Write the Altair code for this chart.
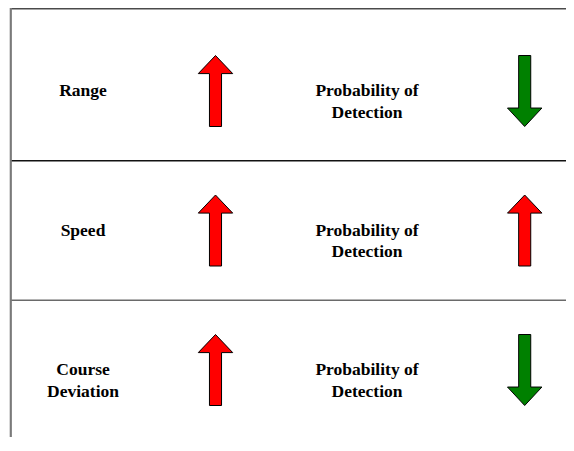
import altair as alt
import pandas as pd

# ---- data ----
factors = ["Range", "Speed", "Course\nDeviation"]
factor_dirs = ["up", "up", "up"]
effects = ["Probability of\nDetection", "Probability of\nDetection", "Probability of\nDetection"]
effect_dirs = ["down", "up", "down"]
row_edges = [-0.59, 0.5, 1.5]          # table separators, in row units
edge_names = ["top", "mid1", "mid2"]

# ---- tables ----
cols = ["factor", "factor_arrow", "effect", "effect_arrow"]
rows = list(range(len(factors)))
texts = pd.DataFrame(
    [{"row": r, "col": cols.index("factor"), "text": factors[r]} for r in rows]
    + [{"row": r, "col": cols.index("effect"), "text": effects[r]} for r in rows]
)
arrows = pd.DataFrame(
    [{"row": r, "col": cols.index("factor_arrow"), "dir": factor_dirs[r]} for r in rows]
    + [{"row": r, "col": cols.index("effect_arrow"), "dir": effect_dirs[r]} for r in rows]
)
edges = pd.DataFrame({"edge": row_edges, "name": edge_names})

# ---- layout / styles ----
W, H = 558, 426
PAD_TOP = 3
x_scale = alt.Scale(domain=[0, 1, 2, 3], range=[75, 207.5, 359, 516.7], zero=False, nice=False)
y_scale = alt.Scale(domain=[0, 2], range=[80, 359], zero=False, nice=False)

UP = "M0,-1 L0.485,-0.49 L0.17,-0.49 L0.17,1 L-0.17,1 L-0.17,-0.49 L-0.485,-0.49 Z"
DOWN = "M0,1 L0.485,0.48 L0.17,0.48 L0.17,-1 L-0.17,-1 L-0.17,0.48 L-0.485,0.48 Z"

hlines = alt.Chart(edges).mark_rule(strokeWidth=1.5).encode(
    x=alt.value(2.7),
    x2=alt.value(W),
    y=alt.Y("edge:Q", scale=y_scale, axis=None),
    color=alt.Color("name:N", scale=alt.Scale(domain=edge_names, range=["#4a4a4a", "#111111", "#6a6a6a"]), legend=None),
)

vline = alt.Chart(edges).mark_rule(strokeWidth=1.6, color="#7a7a7a").encode(
    x=alt.value(2.7),
    y=alt.value(-PAD_TOP),
    y2=alt.value(H),
)

text_layer = alt.Chart(texts).mark_text(
    font="Liberation Serif", fontWeight="bold", fontSize=17.5,
    lineBreak="\n", lineHeight=21.5, baseline="middle", align="center", color="black",
).encode(
    x=alt.X("col:Q", scale=x_scale, axis=None),
    y=alt.Y("row:Q", scale=y_scale, axis=None),
    text="text:N",
)

arrow_layer = alt.Chart(arrows).mark_point(
    filled=True, size=5041, stroke="black", strokeWidth=1, opacity=1, fillOpacity=1, strokeOpacity=1,
).encode(
    x=alt.X("col:Q", scale=x_scale, axis=None),
    y=alt.Y("row:Q", scale=y_scale, axis=None),
    shape=alt.Shape("dir:N", scale=alt.Scale(domain=["up", "down"], range=[UP, DOWN]), legend=None),
    fill=alt.Fill("dir:N", scale=alt.Scale(domain=["up", "down"], range=["#ff0000", "#008000"]), legend=None),
)

chart = alt.layer(hlines, vline, arrow_layer, text_layer).properties(
    width=W, height=H,
    autosize=alt.AutoSizeParams(type="none"),
    padding={"left": 0, "top": PAD_TOP, "right": 0, "bottom": 0},
    background="white",
).configure_view(stroke=None)

chart.save("out.html", embed_options={"renderer": "svg", "actions": False})
